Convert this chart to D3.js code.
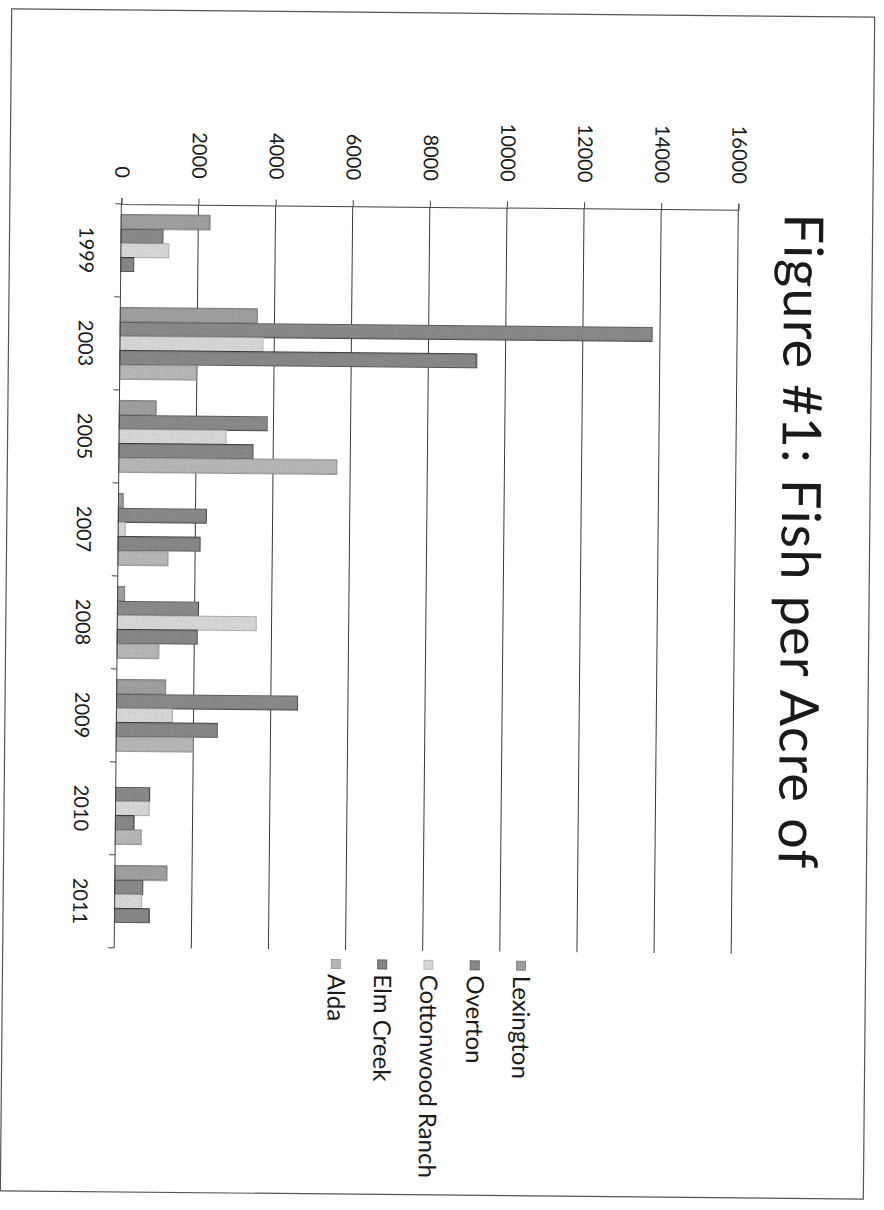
<!DOCTYPE html>
<html>
<head>
<meta charset="utf-8">
<script src="https://cdn.jsdelivr.net/npm/d3@7"></script>
<style>
  html, body { margin: 0; padding: 0; background: #fff; }
  svg { display: block; }
  text { font-family: Lato, "Open Sans", "DejaVu Sans", sans-serif; fill: #1a1a1a; }
</style>
</head>
<body>
<svg id="chart" width="884" height="1210"></svg>
<script>
// ---- data ----
const categories = ["1999", "2003", "2005", "2007", "2008", "2009", "2010", "2011"];
const seriesNames = ["Lexington", "Overton", "Cottonwood Ranch", "Elm Creek", "Alda"];
const lexington  = [2300, 3550,  950,  120,  190, 1280,   0, 1350];
const overton    = [1100, 13800, 3850, 2280, 2100, 4700, 880,  730];
const cottonwood = [1250, 3720, 2780,  180, 3600, 1450, 870,  710];
const elmCreek   = [ 350, 9250, 3480, 2130, 2080, 2630, 480,  900];
const alda       = [   0, 1990, 5660, 1300, 1080, 2000, 670,    0];
const valueTicks = [0, 2000, 4000, 6000, 8000, 10000, 12000, 14000, 16000];
const titleText = "Figure #1:  Fish per Acre of";

const seriesValues = [lexington, overton, cottonwood, elmCreek, alda];
const seriesFill = ["#a0a0a0", "#8a8a8a", "#d8d8d8", "#888888", "#b8b8b8"];
const seriesStroke = ["#6a6a6a", "#383838", "#a4a4a4", "#2a2a2a", "#868686"];

const svg = d3.select("#chart");
svg.append("rect").attr("width", 884).attr("height", 1210).attr("fill", "#fff");

// scanned-print grain texture for the bar fills
const defs = svg.append("defs");
const f = defs.append("filter").attr("id", "grain").attr("x", 0).attr("y", 0).attr("width", 1).attr("height", 1);
f.append("feTurbulence").attr("type", "fractalNoise").attr("baseFrequency", 0.85)
  .attr("numOctaves", 1).attr("seed", 7).attr("result", "noise");
f.append("feColorMatrix").attr("in", "noise").attr("type", "matrix")
  .attr("values", "0 0 0 0 0  0 0 0 0 0  0 0 0 0 0  0 0 0 -3 1.55").attr("result", "dots");
f.append("feComposite").attr("in", "dots").attr("in2", "SourceGraphic").attr("operator", "in").attr("result", "dotsIn");
f.append("feComponentTransfer").attr("in", "dotsIn").attr("result", "dotsSoft")
  .append("feFuncA").attr("type", "linear").attr("slope", 0.28);
const merge = f.append("feMerge");
merge.append("feMergeNode").attr("in", "SourceGraphic");
merge.append("feMergeNode").attr("in", "dotsSoft");

// whole scanned page is slightly rotated
const g = svg.append("g").attr("transform", "rotate(0.55 442 605)");

// page border
g.append("rect").attr("x", 6).attr("y", 13).attr("width", 863).attr("height", 1182)
  .attr("fill", "none").attr("stroke", "#555").attr("stroke-width", 1.2);

const x = d3.scaleLinear().domain([0, 16000]).range([117.5, 734.5]);
const y = d3.scaleBand().domain(categories).range([207, 951])
  .paddingInner(1.5 / 6.5).paddingOuter(0.75 / 6.5);
const ys = d3.scaleBand().domain(seriesNames).range([0, y.bandwidth()]);

// gridlines
g.append("g").selectAll("line").data(valueTicks.slice(1)).join("line")
  .attr("x1", d => x(d)).attr("x2", d => x(d))
  .attr("y1", 207).attr("y2", 951)
  .attr("stroke", "#3a3a3a").attr("stroke-width", 1);

// value axis (top)
const xAxis = g.append("g").attr("transform", "translate(0,207)")
  .call(d3.axisTop(x).tickValues(valueTicks).tickSize(6).tickFormat(d3.format("d")));
xAxis.select(".domain").attr("stroke", "#444");
xAxis.selectAll(".tick line").attr("stroke", "#444");
xAxis.selectAll(".tick text")
  .attr("font-size", 20).attr("fill", "#1a1a1a")
  .attr("text-anchor", "end")
  .attr("transform", "translate(-7,-26) rotate(90)")
  .attr("x", 0).attr("y", 0).attr("dy", 0);

// bars
const barData = [];
categories.forEach((c, ci) => {
  seriesNames.forEach((s, si) => {
    barData.push({ c, s, si, v: seriesValues[si][ci] });
  });
});
g.append("g").selectAll("rect").data(barData.filter(d => d.v > 0)).join("rect")
  .attr("x", x(0))
  .attr("y", d => y(d.c) + ys(d.s))
  .attr("width", d => x(d.v) - x(0))
  .attr("height", ys.bandwidth())
  .attr("fill", d => seriesFill[d.si])
  .attr("stroke", d => seriesStroke[d.si])
  .attr("stroke-width", 1)
  .attr("filter", "url(#grain)");

// category axis (left)
const step = y.step();
const bounds = d3.range(categories.length + 1).map(i => 207 + i * step);
g.append("line").attr("x1", x(0)).attr("x2", x(0)).attr("y1", 207).attr("y2", 951)
  .attr("stroke", "#444").attr("stroke-width", 1);
g.append("g").selectAll("line").data(bounds).join("line")
  .attr("x1", x(0) - 6).attr("x2", x(0)).attr("y1", d => d).attr("y2", d => d)
  .attr("stroke", "#444");
g.append("g").selectAll("text").data(categories).join("text")
  .attr("transform", d => `translate(76,${y(d) + y.bandwidth() / 2}) rotate(90)`)
  .attr("text-anchor", "middle")
  .attr("font-size", 20)
  .text(d => d);

// title
g.append("text")
  .attr("transform", "translate(781,210) rotate(90)")
  .attr("font-size", 54)
  .attr("textLength", 655).attr("lengthAdjust", "spacing")
  .text(titleText);

// legend
const leg = g.append("g").selectAll("g").data(seriesNames).join("g")
  .attr("transform", (d, i) => `translate(${524.5 - i * 46.3},0)`);
leg.append("rect").attr("x", -5).attr("y", 960).attr("width", 10).attr("height", 10)
  .attr("fill", (d, i) => seriesFill[i]).attr("stroke", (d, i) => seriesStroke[i]).attr("stroke-width", 0.8)
  .attr("filter", "url(#grain)");
leg.append("text")
  .attr("transform", "translate(-8,975) rotate(90)")
  .attr("font-size", 24)
  .text(d => d);
</script>
</body>
</html>
